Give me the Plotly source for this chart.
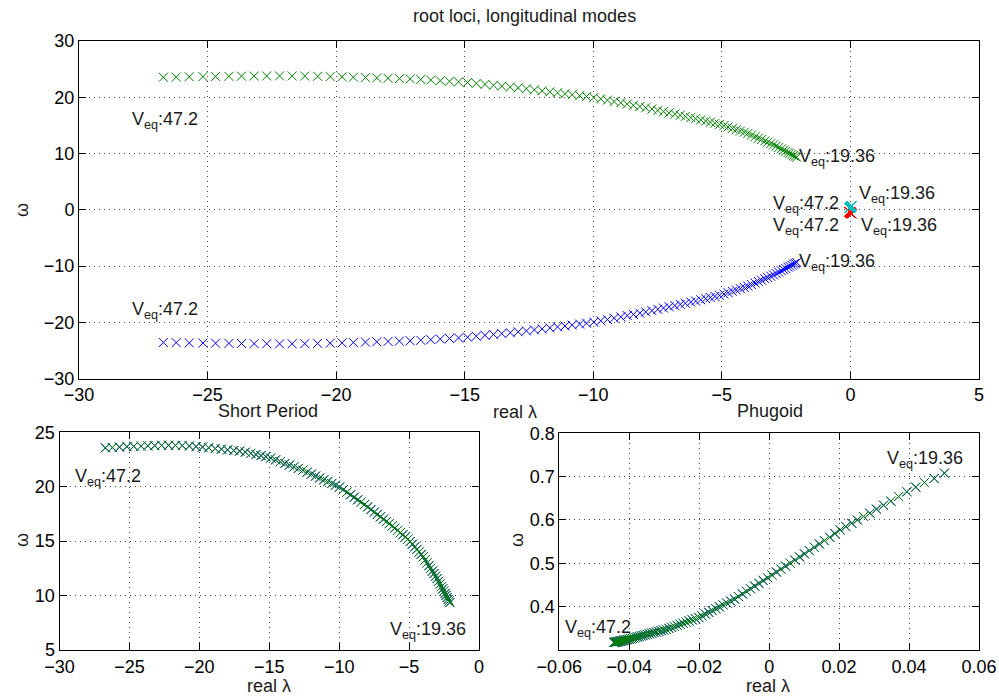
import plotly.graph_objects as go

# Short-period branch (upper root, V_eq from 47.2 down to 19.36)
SP_RE = [-26.72, -26.22, -25.71, -25.18, -24.69, -24.17, -23.68, -23.19, -22.70, -22.20,
         -21.71, -21.22, -20.72, -20.23, -19.77, -19.33, -18.86, -18.42, -17.98, -17.54,
         -17.12, -16.71, -16.32, -15.95, -15.59, -15.24, -14.89, -14.55, -14.21, -13.88,
         -13.56, -13.23, -12.92, -12.60, -12.29, -11.99, -11.69, -11.39, -11.10, -10.82,
         -10.53, -10.26, -9.98, -9.71, -9.45, -9.19, -8.93, -8.68, -8.44, -8.19,
         -7.96, -7.72, -7.49, -7.27, -7.05, -6.83, -6.62, -6.42, -6.21, -6.02,
         -5.82, -5.63, -5.45, -5.27, -5.09, -4.92, -4.76, -4.59, -4.44, -4.28,
         -4.13, -3.99, -3.85, -3.71, -3.58, -3.46, -3.33, -3.22, -3.10, -2.99,
         -2.89, -2.79, -2.69, -2.60, -2.52, -2.43, -2.36, -2.28, -2.21, -2.15, -2.09]
SP_IM = [23.56, 23.59, 23.63, 23.67, 23.70, 23.72, 23.75, 23.77, 23.79, 23.80,
         23.79, 23.77, 23.73, 23.68, 23.63, 23.57, 23.50, 23.44, 23.38, 23.32,
         23.27, 23.17, 23.06, 22.95, 22.85, 22.75, 22.63, 22.46, 22.29, 22.13,
         21.98, 21.82, 21.67, 21.51, 21.33, 21.15, 20.97, 20.80, 20.63, 20.46,
         20.29, 20.13, 19.96, 19.72, 19.49, 19.25, 19.02, 18.79, 18.58, 18.35,
         18.14, 17.90, 17.67, 17.45, 17.23, 17.01, 16.80, 16.60, 16.39, 16.20,
         15.98, 15.77, 15.58, 15.38, 15.18, 14.96, 14.72, 14.47, 14.24, 14.00,
         13.78, 13.56, 13.28, 13.00, 12.74, 12.50, 12.24, 12.02, 11.78, 11.56,
         11.31, 11.07, 10.82, 10.60, 10.40, 10.18, 10.01, 9.82, 9.64, 9.50, 9.35]

# Phugoid branch (upper root, same V_eq sequence)
PH_RE = [-0.04438, -0.04418, -0.04397, -0.04373, -0.04349, -0.04322, -0.04294, -0.04263, -0.04232, -0.04198,
         -0.04163, -0.04126, -0.04087, -0.04046, -0.04004, -0.03960, -0.03914, -0.03866, -0.03817, -0.03766,
         -0.03713, -0.03658, -0.03602, -0.03543, -0.03484, -0.03422, -0.03359, -0.03293, -0.03227, -0.03158,
         -0.03088, -0.03016, -0.02942, -0.02866, -0.02789, -0.02710, -0.02629, -0.02546, -0.02462, -0.02376,
         -0.02288, -0.02199, -0.02108, -0.02015, -0.01920, -0.01824, -0.01726, -0.01626, -0.01524, -0.01421,
         -0.01316, -0.01209, -0.01100, -0.00990, -0.00878, -0.00764, -0.00649, -0.00532, -0.00413, -0.00292,
         -0.00170, -0.00045, 0.00080, 0.00208, 0.00337, 0.00469, 0.00601, 0.00736, 0.00872, 0.01010,
         0.01150, 0.01292, 0.01435, 0.0158, 0.0173, 0.0188, 0.0203, 0.0219, 0.0236, 0.0252,
         0.0270, 0.0288, 0.0307, 0.0327, 0.0348, 0.0370, 0.0394, 0.0419, 0.0444, 0.0472, 0.0501]
PH_IM = [0.3172, 0.3176, 0.3179, 0.3184, 0.3188, 0.3193, 0.3198, 0.3203, 0.3209, 0.3215,
         0.3221, 0.3228, 0.3235, 0.3242, 0.3249, 0.3259, 0.3268, 0.3279, 0.3289, 0.3300,
         0.3312, 0.3324, 0.3336, 0.3348, 0.3361, 0.3374, 0.3388, 0.3402, 0.3416, 0.3431,
         0.3446, 0.3462, 0.3477, 0.3499, 0.3522, 0.3545, 0.3569, 0.3594, 0.3619, 0.3644,
         0.3670, 0.3696, 0.3723, 0.3751, 0.3788, 0.3828, 0.3869, 0.3910, 0.3953, 0.3995,
         0.4039, 0.4083, 0.4129, 0.4175, 0.4233, 0.4293, 0.4353, 0.4413, 0.4475, 0.4538,
         0.4602, 0.4667, 0.4732, 0.4799, 0.4866, 0.4935, 0.5004, 0.5074, 0.5145, 0.5219,
         0.5294, 0.5370, 0.5447, 0.5524, 0.5600, 0.5686, 0.5770, 0.5848, 0.5926, 0.6000,
         0.6080, 0.6157, 0.6250, 0.6340, 0.6434, 0.6540, 0.6650, 0.6757, 0.6864, 0.6957, 0.7080]

SP_NEG = [-v for v in SP_IM]
PH_NEG = [-v for v in PH_IM]

X_TICKS_TOP = [-30, -25, -20, -15, -10, -5, 0, 5]
Y_TICKS_TOP = [-30, -20, -10, 0, 10, 20, 30]
X_TICKS_SP = [-30, -25, -20, -15, -10, -5, 0]
Y_TICKS_SP = [5, 10, 15, 20, 25]
X_TICKS_PH = [-0.06, -0.04, -0.02, 0, 0.02, 0.04, 0.06]
X_LABELS_PH = ["\u22120.06", "\u22120.04", "\u22120.02", "0", "0.02", "0.04", "0.06"]
Y_TICKS_PH = [0.4, 0.5, 0.6, 0.7, 0.8]
Y_LABELS_PH = ["0.4", "0.5", "0.6", "0.7", "0.8"]

BLUE = "#0000FF"
GREEN = "#008000"
RED = "#FF0000"
CYAN = "#00BFBF"
FONT = "Liberation Sans, Arial, Helvetica, sans-serif"
FS = 18


def xs(x, y, color, xa, ya, size=9):
    return go.Scatter(x=x, y=y, mode="markers", xaxis=xa, yaxis=ya, showlegend=False,
                      hoverinfo="skip", cliponaxis=False,
                      marker=dict(symbol="x-thin", size=size, color=color,
                                  line=dict(color=color, width=1)))


fig = go.Figure()
# top: full root loci
fig.add_trace(xs(SP_RE, SP_NEG, BLUE, "x", "y"))
fig.add_trace(xs(SP_RE, SP_IM, GREEN, "x", "y"))
fig.add_trace(xs(PH_RE, PH_NEG, RED, "x", "y"))
fig.add_trace(xs(PH_RE, PH_IM, CYAN, "x", "y"))
# bottom-left: short period
fig.add_trace(xs(SP_RE, SP_IM, BLUE, "x2", "y2"))
fig.add_trace(xs(SP_RE, SP_IM, GREEN, "x2", "y2"))
# bottom-right: phugoid
fig.add_trace(xs(PH_RE, PH_IM, BLUE, "x3", "y3"))
fig.add_trace(xs(PH_RE, PH_IM, GREEN, "x3", "y3"))

axis_common = dict(showline=True, linecolor="black", linewidth=1, mirror="ticks",
                   ticks="inside", ticklen=7, tickcolor="black", tickwidth=1,
                   showgrid=True, gridcolor="#444444", griddash="1px,4px", gridwidth=1,
                   zeroline=False, automargin=False,
                   tickfont=dict(family=FONT, size=FS, color="black"))

W, H = 999, 698


def dom_x(a, b):
    return [a / W, b / W]


def dom_y(top, bottom):
    return [1 - bottom / H, 1 - top / H]


fig.update_layout(
    width=W, height=H, margin=dict(l=0, r=0, t=0, b=0, autoexpand=False),
    paper_bgcolor="white", plot_bgcolor="white",
    font=dict(family=FONT, size=FS, color="black"),
    xaxis=dict(axis_common, domain=dom_x(79, 979), range=[-30, 5], tickvals=X_TICKS_TOP, anchor="y"),
    yaxis=dict(axis_common, domain=dom_y(41, 378.7), range=[-30, 30], tickvals=Y_TICKS_TOP, anchor="x"),
    xaxis2=dict(axis_common, domain=dom_x(59.5, 479), range=[-30, 0], tickvals=X_TICKS_SP, anchor="y2"),
    yaxis2=dict(axis_common, domain=dom_y(432.2, 650), range=[5, 25], tickvals=Y_TICKS_SP, anchor="x2"),
    xaxis3=dict(axis_common, domain=dom_x(559.3, 979), range=[-0.06, 0.06], tickvals=X_TICKS_PH,
                ticktext=X_LABELS_PH, anchor="y3"),
    yaxis3=dict(axis_common, domain=dom_y(433.3, 650), range=[0.3, 0.8], tickvals=Y_TICKS_PH,
                ticktext=Y_LABELS_PH, anchor="x3"),
)

TXT = "#1a1a1a"


def paper_text(text, px, py, angle=0):
    fig.add_annotation(text=text, x=px / W, y=1 - py / H, xref="paper", yref="paper",
                       showarrow=False, textangle=angle, xanchor="center", yanchor="middle",
                       font=dict(family=FONT, size=FS, color=TXT))


def veq(text, x, y, xref, yref):
    fig.add_annotation(text="V<sub>eq</sub>:" + text, x=x, y=y, xref=xref, yref=yref,
                       showarrow=False, xanchor="left", yanchor="middle",
                       font=dict(family=FONT, size=FS, color=TXT))


paper_text("root loci, longitudinal modes", 524, 16)
paper_text("real \u03bb", 515, 412)
paper_text("Short Period", 268, 411)
paper_text("Phugoid", 770, 411)
paper_text("real \u03bb", 269, 686)
paper_text("real \u03bb", 768, 686)
paper_text("\u03c9", 22, 210, angle=-90)
paper_text("\u03c9", 22, 540, angle=-90)
paper_text("\u03c9", 517, 540, angle=-90)

# top labels
veq("47.2", -28.0, 15.8, "x", "y")
veq("47.2", -28.0, -17.8, "x", "y")
veq("19.36", SP_RE[-1], SP_IM[-1], "x", "y")
veq("19.36", SP_RE[-1], SP_NEG[-1], "x", "y")
veq("47.2", -3.1, 0.9, "x", "y")
veq("47.2", -3.1, -2.9, "x", "y")
veq("19.36", 0.25, 2.75, "x", "y")
veq("19.36", 0.35, -2.9, "x", "y")
# bottom-left labels
veq("47.2", -29.0, 20.85, "x2", "y2")
veq("19.36", -6.48, 6.8, "x2", "y2")
# bottom-right labels
veq("47.2", -0.059, 0.35, "x3", "y3")
veq("19.36", 0.033, 0.739, "x3", "y3")

fig.write_html("out.html", config={"displayModeBar": False},
               post_script="document.body.style.margin='0';document.body.style.overflow='hidden';")
